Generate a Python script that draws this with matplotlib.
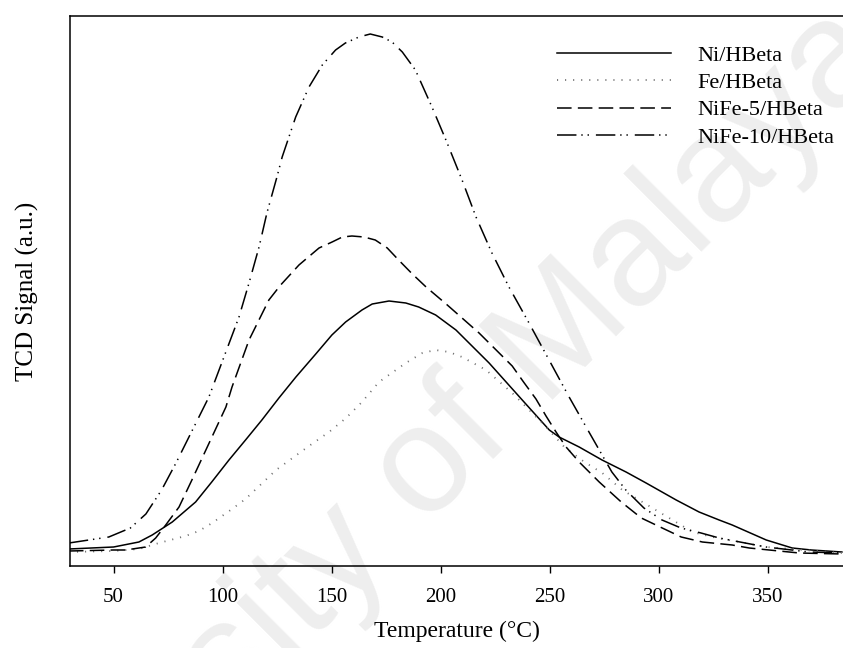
import matplotlib
matplotlib.use("Agg")
import matplotlib.pyplot as plt

# ---------------- data ----------------
ni_T = [29.5, 50, 61.6, 67.7, 76.9, 87.6, 95, 102.9, 110.5, 118, 125.8, 133.6, 142.7,
        150.1, 156.4, 163.9, 168.6, 176.3, 184, 189.9, 197.7, 207, 222.2, 237.4, 249.8,
        254.3, 263.5, 274, 285, 294.2, 308, 318.5, 327.7, 333.7, 349.3, 361.2, 370, 384]
ni_S = [17, 19, 24, 31, 44, 64, 84, 106, 126, 146, 168, 189, 212,
        231, 244, 256, 262, 265, 263, 259, 251, 236, 203, 166, 136,
        129, 119, 106, 94, 83, 66, 54, 46, 41, 26, 18, 16, 14]

fe_T = [29.5, 50, 61.6, 70.8, 83, 89.1, 95.2, 104.3, 110.5, 124.5, 139.6, 148.8, 156.6,
        163.9, 171.7, 184, 191.6, 197.6, 203.8, 209.8, 220.8, 232.8, 248.4, 256.7, 265.9,
        274.1, 283.3, 292.5, 306.3, 315.5, 324.7, 349.3, 384]
fe_S = [14, 15, 17, 23, 30, 35, 43, 57, 67, 96, 120, 134, 148,
        164, 184, 203, 213, 216, 214, 209, 196, 173, 139, 119, 104,
        93, 76, 64, 46, 34, 29, 19, 13]

nife5_T = [29.5, 50, 55.5, 64.7, 69.3, 73.9, 80, 85.9, 101.5, 104.3, 112.1, 121.2, 126.6,
           135, 144.2, 150.2, 154.9, 159.3, 164.8, 170, 175.5, 180.7, 187, 193.3, 202.5,
           217.6, 232.8, 238, 243.7, 248.3, 252.9, 257.5, 263.5, 272.7, 282.8, 292, 301.6,
           310.3, 320, 333.7, 341.5, 364.4, 384]
nife5_S = [15, 16, 16, 19, 28, 41, 59, 86, 159, 179, 226, 266, 281,
           301, 318, 324, 329, 330, 329, 326, 318, 306, 292, 279, 262,
           233, 200, 184, 167, 150, 134, 119, 104, 84, 64, 48, 38,
           29, 24, 21, 18, 13, 12]

nife10_T = [29.5, 47.8, 57.7, 64.8, 72, 78.6, 93.7, 107.5, 112.1, 116.7, 120.3, 124.9,
            127.3, 133.5, 139.6, 145.7, 151.8, 156.3, 162.5, 167.7, 173.2, 177.7, 182.4,
            188.4, 196.0, 202.4, 209.8, 216.2, 223.5, 231.3, 240.5, 249.7, 258.9, 268.0,
            273.5, 278.5, 284.9, 293.2, 301.5, 310.2, 319.4, 327.7, 349.2, 368.9, 384]
nife10_S = [23, 29, 38, 52, 76, 103, 169, 249, 283, 319, 353, 389,
            409, 449, 479, 501, 516, 523, 529, 532, 529, 524, 514,
            496, 459, 426, 386, 349, 313, 279, 243, 206, 169, 134,
            113, 94, 76, 58, 46, 38, 33, 28, 19, 14, 13]

labels = ["Ni/HBeta", "Fe/HBeta", "NiFe-5/HBeta", "NiFe-10/HBeta"]
xticks = [50, 100, 150, 200, 250, 300, 350]

# ---------------- style ----------------
plt.rcParams['font.family'] = ['Liberation Serif', 'DejaVu Serif']
plt.rcParams['lines.scale_dashes'] = False

fig = plt.figure(figsize=(8.43, 6.48), dpi=100)
W, H = 843, 648
ax = fig.add_axes([70 / W, (H - 566) / H, (W - 70) / W, (566 - 16) / H])

# watermark (behind the curves and legend)
ax.text(0.45, 0.2, "University of Malaya", rotation=45, rotation_mode='anchor',
        ha='center', va='center', fontsize=110, color='#eeeeee',
        family=['Liberation Sans', 'DejaVu Sans'], zorder=0.5,
        transform=fig.transFigure, clip_on=False)

lw = 1.1
ax.plot(ni_T, ni_S, color='black', lw=lw, ls='-', label=labels[0], zorder=3)
ax.plot(fe_T, fe_S, color='#707070', lw=1.3, ls=(0, (0.8, 5.0)), label=labels[1], zorder=3)
ax.plot(nife5_T, nife5_S, color='black', lw=lw, ls=(0, (10.5, 4.5)), label=labels[2], zorder=3)
ax.plot(nife10_T, nife10_S, color='black', lw=lw,
        ls=(0, (14, 3.5, 1, 3.5, 1, 5)), label=labels[3], zorder=3)

ax.set_xlim(30, 384.5)
ax.set_ylim(0, 550)
ax.patch.set_alpha(0)
ax.set_xticks(xticks)
ax.set_xticklabels([str(t) for t in xticks])
ax.set_yticks([])
ax.tick_params(axis='x', direction='out', length=5, width=1, pad=11, labelsize=15)
for s in ['left', 'bottom', 'top']:
    ax.spines[s].set_linewidth(1.1)
ax.spines['right'].set_visible(False)

ax.set_xlabel("Temperature (°C)", fontsize=17, labelpad=10)
ax.set_ylabel("TCD Signal (a.u.)", fontsize=18, labelpad=22)

leg = ax.legend(loc='upper right', frameon=False, fontsize=16, handlelength=5.1,
                handletextpad=1.2, labelspacing=0.3, borderaxespad=0.3,
                bbox_to_anchor=(1.009, 0.975))
leg.set_zorder(5)

fig.savefig("out.png", dpi=100)
